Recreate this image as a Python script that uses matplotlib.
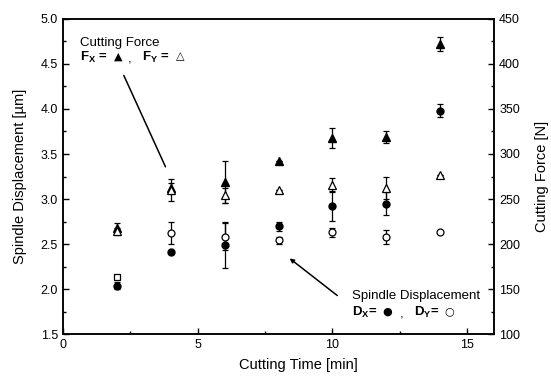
import matplotlib.pyplot as plt
from matplotlib.ticker import MultipleLocator

plt.rcParams['font.family'] = ['Liberation Sans', 'DejaVu Sans']
plt.rcParams['mathtext.fontset'] = 'custom'
plt.rcParams['mathtext.rm'] = 'Liberation Sans'
plt.rcParams['mathtext.bf'] = 'Liberation Sans:bold'

# tempo de corte [min]
tempo = [2, 4, 6, 8, 10, 12, 14]

# forca de corte [N]
fx = [218, 262, 269, 292, 318, 319, 422]
fx_err = [5, 6, 23, 0, 11, 7, 8]
fy = [214, 260, 254, 260, 266, 262, 277]
fy_err = [4, 12, 8, 0, 7, 12, 0]

# deslocamento do fuso [um]
dx = [2.04, 2.41, 2.49, 2.70, 2.92, 2.95, 3.98]
dx_err = [0.04, 0.02, 0.26, 0.05, 0.16, 0.13, 0.07]
dy = [2.14, 2.62, 2.58, 2.54, 2.63, 2.58, 2.63]
dy_err = [0.0, 0.12, 0.15, 0.04, 0.05, 0.08, 0.01]
dy_marcas = ['s', 'o', 'o', 'o', 'o', 'o', 'o']

fig = plt.figure(figsize=(5.51, 3.85), dpi=100)
ax = fig.add_axes([0.114, 0.132, 0.783, 0.819])
ax2 = ax.twinx()

eb = dict(ls='none', ecolor='black', elinewidth=0.9, capsize=2, capthick=0.9)

# deslocamento (eixo esquerdo)
ax.errorbar(tempo, dx, yerr=dx_err, marker='o', ms=5, mfc='black', mec='black', **eb)
for t, v, e, m in zip(tempo, dy, dy_err, dy_marcas):
    ax.errorbar(t, v, yerr=e, marker=m, ms=5, mfc='white', mec='black', mew=0.9, **eb)

# forca (eixo direito)
ax2.errorbar(tempo, fx, yerr=fx_err, marker='^', ms=5.5, mfc='black', mec='black', **eb)
ax2.errorbar(tempo, fy, yerr=fy_err, marker='^', ms=5.5, mfc='white', mec='black', mew=0.9, **eb)

ax.set_xlim(0, 16)
ax.set_ylim(1.5, 5.0)
ax2.set_ylim(100, 450)

ax.xaxis.set_major_locator(MultipleLocator(5))
ax.xaxis.set_minor_locator(MultipleLocator(2.5))
ax.yaxis.set_major_locator(MultipleLocator(0.5))
ax.yaxis.set_minor_locator(MultipleLocator(0.25))
ax2.yaxis.set_major_locator(MultipleLocator(50))
ax2.yaxis.set_minor_locator(MultipleLocator(25))

for a in (ax, ax2):
    a.tick_params(which='both', direction='in', labelsize=9, width=1)
    a.tick_params(which='major', length=4)
    a.tick_params(which='minor', length=2.5)
    for s in a.spines.values():
        s.set_linewidth(1.1)

ax.set_xlabel('Cutting Time [min]', fontsize=10.5, labelpad=2)
ax.xaxis.set_label_coords(0.545, -0.075)
ax.set_ylabel('Spindle Displacement [µm]', fontsize=10.5, labelpad=10)
ax2.set_ylabel('Cutting Force [N]', fontsize=10.5, labelpad=11)

# anotacoes
fs = 9.5
ax.text(0.63, 4.73, 'Cutting Force', fontsize=fs, va='center')
ax.text(0.63, 4.57, r'$\mathbf{F_X}$ =', fontsize=fs, va='center', fontweight='bold')
ax.text(1.9, 4.58, '▲', fontsize=8, va='center', family='DejaVu Sans')
ax.text(2.4, 4.55, ',', fontsize=fs, va='center')
ax.text(2.93, 4.57, r'$\mathbf{F_Y}$ =', fontsize=fs, va='center', fontweight='bold')
ax.text(4.2, 4.58, '△', fontsize=8, va='center', family='DejaVu Sans')
ax.annotate('', xy=(3.85, 3.33), xytext=(2.22, 4.40),
            arrowprops=dict(arrowstyle='-', lw=1.1, color='black'))

ax.text(10.72, 1.92, 'Spindle Displacement', fontsize=fs, va='center')
ax.text(10.72, 1.74, r'$\mathbf{D_X}$=', fontsize=fs, va='center', fontweight='bold')
ax.text(11.85, 1.75, '●', fontsize=8, va='center', family='DejaVu Sans')
ax.text(12.5, 1.72, ',', fontsize=fs, va='center')
ax.text(13.04, 1.74, r'$\mathbf{D_Y}$=', fontsize=fs, va='center', fontweight='bold')
ax.text(14.15, 1.75, '○', fontsize=8, va='center', family='DejaVu Sans')
ax.annotate('', xy=(8.33, 2.36), xytext=(10.26, 1.91),
            arrowprops=dict(arrowstyle='-|>', lw=1.1, color='black', mutation_scale=6))

plt.savefig('out.png', dpi=100)
